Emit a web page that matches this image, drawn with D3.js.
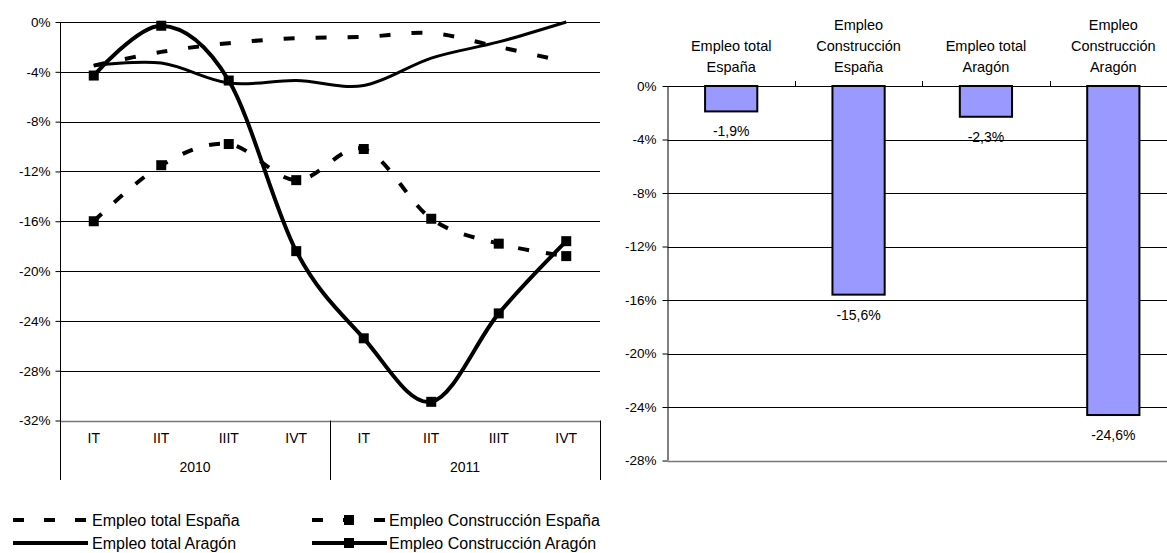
<!DOCTYPE html>
<html>
<head>
<meta charset="utf-8">
<script src="https://cdn.jsdelivr.net/npm/d3@7"></script>
<style>
    body { margin: 0; background: #fff; }
    svg text { font-family: "Liberation Sans", Arial, sans-serif; fill: #000; }
</style>
</head>
<body>
<div id="chart"></div>
<script>
"use strict"

//-----------------------------DATA-----------------------------//
const quarters = ["IT", "IIT", "IIIT", "IVT", "IT", "IIT", "IIIT", "IVT"];
const years = ["2010", "2011"];
const lineTicks = [0, -4, -8, -12, -16, -20, -24, -28, -32];

const empleoTotalEspana = [-3.5, -2.4, -1.7, -1.3, -1.2, -0.9, -2.0, -3.2];
const empleoConstEspana = [-16.0, -11.5, -9.8, -12.7, -10.2, -15.8, -17.8, -18.8];
const empleoTotalAragon = [-3.5, -3.3, -4.9, -4.7, -5.1, -2.9, -1.6, 0.0];
const empleoConstAragon = [-4.3, -0.3, -4.7, -18.4, -25.4, -30.5, -23.4, -17.6];

const seriesNames = ["Empleo total España", "Empleo Construcción España",
    "Empleo total Aragón", "Empleo Construcción Aragón"];

const barCategories = [
    ["Empleo total", "España"],
    ["Empleo", "Construcción", "España"],
    ["Empleo total", "Aragón"],
    ["Empleo", "Construcción", "Aragón"]
];
const barValues = [-1.9, -15.6, -2.3, -24.6];
const barTicks = [0, -4, -8, -12, -16, -20, -24, -28];

//---------------------------SVG--------------------------------//
const width = 1167;
const height = 553;
const svg = d3.select("#chart").append("svg")
    .attr("width", width)
    .attr("height", height);

// comma decimal, plain hyphen
const pct = d => d.toFixed(1).replace(".", ",") + "%";

//=====================1. LEFT: LINE CHART======================//
const left = { x0: 60, x1: 600, y0: 22, y1: 420.5 };

const x = d3.scaleBand()
    .domain(d3.range(quarters.length))
    .range([left.x0, left.x1]);
const y = d3.scaleLinear()
    .domain([-32, 0])
    .range([left.y1, left.y0]);

// gridlines
svg.append("g")
    .selectAll("line")
    .data(lineTicks)
    .enter()
    .append("line")
    .attr("x1", left.x0).attr("x2", left.x1)
    .attr("y1", d => Math.round(y(d)) + 0.5)
    .attr("y2", d => Math.round(y(d)) + 0.5)
    .attr("stroke", d => d === -32 ? "#777" : "#000")
    .attr("stroke-width", d => d === -32 ? 1.5 : 1);

// y axis
const yaxisL = d3.axisLeft(y)
    .tickValues(lineTicks)
    .tickSize(5)
    .tickPadding(5)
    .tickFormat(d => d + "%");
const yaxisLEl = svg.append("g")
    .attr("transform", "translate(" + (left.x0 + 0.5) + ",0)")
    .call(yaxisL);
yaxisLEl.select(".domain").remove();
yaxisLEl.selectAll("text").style("font-size", "13.5px");
svg.append("line")
    .attr("x1", left.x0 + 0.5).attr("x2", left.x0 + 0.5)
    .attr("y1", left.y0).attr("y2", 480)
    .attr("stroke", "#000");

// category axis (two levels)
svg.append("g")
    .selectAll("text")
    .data(quarters)
    .enter()
    .append("text")
    .attr("x", (d, i) => x(i) + x.bandwidth() / 2)
    .attr("y", 443)
    .attr("text-anchor", "middle")
    .style("font-size", "14px")
    .text(d => d);

svg.append("g")
    .selectAll("text")
    .data(years)
    .enter()
    .append("text")
    .attr("x", (d, i) => x(i * 4) + x.bandwidth() * 2)
    .attr("y", 472)
    .attr("text-anchor", "middle")
    .style("font-size", "14px")
    .text(d => d);

svg.append("g")
    .selectAll("line")
    .data([4, 8])
    .enter()
    .append("line")
    .attr("x1", d => (d === 8 ? left.x1 : x(d)) + 0.5)
    .attr("x2", d => (d === 8 ? left.x1 : x(d)) + 0.5)
    .attr("y1", left.y1).attr("y2", 480)
    .attr("stroke", "#000");

// lines
const line = d3.line()
    .x((d, i) => x(i) + x.bandwidth() / 2)
    .y(d => y(d))
    .curve(d3.curveCardinal.tension(0));

const styles = [
    { data: empleoTotalEspana, width: 4, dash: "11,21", marker: false },
    { data: empleoConstEspana, width: 4, dash: "11,17", marker: true },
    { data: empleoTotalAragon, width: 3, dash: null, marker: false },
    { data: empleoConstAragon, width: 4, dash: null, marker: true }
];

const plot = svg.append("g");
styles.forEach(s => {
    plot.append("path")
        .attr("d", line(s.data))
        .attr("fill", "none")
        .attr("stroke", "#000")
        .attr("stroke-width", s.width)
        .attr("stroke-dasharray", s.dash);
    if (s.marker) {
        plot.append("g")
            .selectAll("rect")
            .data(s.data)
            .enter()
            .append("rect")
            .attr("x", (d, i) => x(i) + x.bandwidth() / 2 - 5)
            .attr("y", d => y(d) - 5)
            .attr("width", 10)
            .attr("height", 10)
            .attr("fill", "#000");
    }
});

// legend
const legend = svg.append("g");
const legendPos = [
    { sx: 13, tx: 92, ty: 520 },
    { sx: 312, tx: 389, ty: 520 },
    { sx: 13, tx: 92, ty: 543 },
    { sx: 312, tx: 389, ty: 543 }
];
styles.forEach((s, i) => {
    const p = legendPos[i];
    const g = legend.append("g");
    g.append("line")
        .attr("x1", p.sx).attr("x2", p.sx + 75)
        .attr("y1", p.ty).attr("y2", p.ty)
        .attr("stroke", "#000")
        .attr("stroke-width", s.width === 3 ? 4 : s.width)
        .attr("stroke-dasharray", s.dash ? "11,20" : null);
    if (s.marker) {
        g.append("rect")
            .attr("x", p.sx + 37 - 5).attr("y", p.ty - 5)
            .attr("width", 10).attr("height", 10)
            .attr("fill", "#000");
    }
    g.append("text")
        .attr("x", p.tx)
        .attr("y", p.ty + 5.5)
        .style("font-size", "16px")
        .text(seriesNames[i]);
});

//=====================2. RIGHT: BAR CHART======================//
const right = { x0: 667.5, x1: 1177, y0: 86, y1: 460.5 };

const xb = d3.scaleBand()
    .domain(d3.range(barValues.length))
    .range([right.x0, right.x1])
    .paddingInner(0.59)
    .paddingOuter(0.295);
const xcat = d3.scaleBand()
    .domain(d3.range(barValues.length))
    .range([right.x0, right.x1]);
const yb = d3.scaleLinear()
    .domain([-28, 0])
    .range([right.y1, right.y0]);

svg.append("g")
    .selectAll("line")
    .data(barTicks)
    .enter()
    .append("line")
    .attr("x1", right.x0).attr("x2", width)
    .attr("y1", d => Math.round(yb(d)) + 0.5)
    .attr("y2", d => Math.round(yb(d)) + 0.5)
    .attr("stroke", d => d === -28 ? "#777" : "#000")
    .attr("stroke-width", d => d === -28 ? 1.5 : 1);

const yaxisR = d3.axisLeft(yb)
    .tickValues(barTicks)
    .tickSize(5)
    .tickPadding(6)
    .tickFormat(d => d + "%");
const yaxisREl = svg.append("g")
    .attr("transform", "translate(" + right.x0 + ",0)")
    .call(yaxisR);
yaxisREl.select(".domain")
    .attr("d", "M0.5," + right.y0 + "V" + right.y1);
yaxisREl.selectAll("text").style("font-size", "13.5px");

// category ticks on the zero line
svg.append("g")
    .selectAll("line")
    .data(d3.range(1, barValues.length))
    .enter()
    .append("line")
    .attr("x1", d => Math.round(xcat(d)) + 0.5)
    .attr("x2", d => Math.round(xcat(d)) + 0.5)
    .attr("y1", yb(0) - 5).attr("y2", yb(0))
    .attr("stroke", "#000");

// bars
svg.append("g")
    .selectAll("rect")
    .data(barValues)
    .enter()
    .append("rect")
    .attr("x", (d, i) => xb(i))
    .attr("y", yb(0))
    .attr("width", xb.bandwidth())
    .attr("height", d => yb(d) - yb(0))
    .attr("fill", "#9999ff")
    .attr("stroke", "#000")
    .attr("stroke-width", 2);

// value labels
svg.append("g")
    .selectAll("text")
    .data(barValues)
    .enter()
    .append("text")
    .attr("x", (d, i) => xb(i) + xb.bandwidth() / 2)
    .attr("y", d => yb(d) + 25)
    .attr("text-anchor", "middle")
    .style("font-size", "14px")
    .text(d => pct(d));

// category titles on top
const titles = svg.append("g")
    .selectAll("text")
    .data(barCategories)
    .enter()
    .append("text")
    .attr("x", (d, i) => xb(i) + xb.bandwidth() / 2)
    .attr("text-anchor", "middle")
    .style("font-size", "14.5px");
titles.selectAll("tspan")
    .data(d => d.map((t, j) => ({ t: t, row: 3 - d.length + j })))
    .enter()
    .append("tspan")
    .attr("x", function () { return d3.select(this.parentNode).attr("x"); })
    .attr("y", d => 30 + d.row * 21)
    .text(d => d.t);
</script>
</body>
</html>
